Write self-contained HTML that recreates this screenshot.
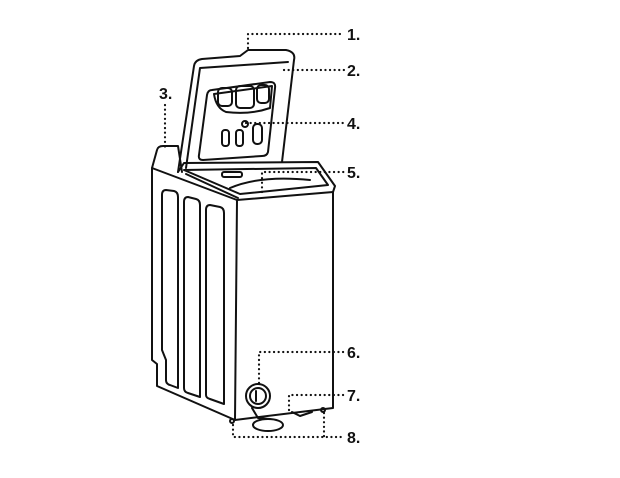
<!DOCTYPE html>
<html><head><meta charset="utf-8"><style>
html,body{margin:0;padding:0;background:#fff;}
svg{display:block;}
text{font-family:"Liberation Sans",sans-serif;font-weight:bold;font-size:16px;fill:#111;}
</style></head><body>
<svg width="620" height="478" viewBox="0 0 620 478" xmlns="http://www.w3.org/2000/svg">
<g fill="none" stroke="#111" stroke-width="2" stroke-linejoin="round" stroke-linecap="round">
<!-- left console -->
<path d="M152,168 L157,150 Q158,146 163,146 L178,146 L182,172"/>
<!-- front face -->
<path d="M152,168 L237,200 L235,420 L157,386 L157,364 L152,360 Z"/>
<!-- right face -->
<path d="M237,200 L333,192 L333,408 L235,420"/>
<!-- tub top -->
<path d="M178,172 L184,163 L318,162 L335,186 L333,192"/>
<path d="M184,170 L316,168 L328,185 L240,194 Z"/>
<path d="M186,174 L238,198"/>
<path d="M230,188 Q260,175 310,180"/>
<rect x="222" y="172" width="20" height="5" rx="2"/>
<!-- lid -->
<path d="M178,172 L194,66 Q195,60 202,59 L240,56 L248,50 L286,50 Q296,52 294,60 L282,162"/>
<path d="M186,168 L200,68 L288,62"/>
<!-- lid panel -->
<path d="M212,90 L270,82 Q276,82 275,88 L268,152 Q267,156 262,156 L203,160 Q198,160 199,155 L207,95 Q208,90 212,90 Z"/>
<path d="M214,94 L272,86 L270,108 Q250,115 226,112 Q216,108 214,94 Z"/>
<rect x="218" y="88" width="14" height="18" rx="4"/>
<rect x="236" y="86" width="18" height="22" rx="4"/>
<rect x="257" y="85" width="12" height="18" rx="4"/>
<circle cx="245" cy="124" r="3"/>
<rect x="222" y="130" width="7" height="16" rx="3"/>
<rect x="236" y="130" width="7" height="16" rx="3"/>
<rect x="253" y="124" width="9" height="20" rx="4"/>
<!-- front slots -->
<path d="M166,190 Q162,190 162,195 L162,350 L166,360 L166,380 Q166,384 170,385 L178,388 L178,197 Q178,192 174,191 Z"/>
<path d="M188,197 Q184,197 184,202 L184,388 Q184,392 188,393 L200,397 L200,205 Q200,200 196,199 Z"/>
<path d="M210,205 Q206,205 206,210 L206,395 Q206,398 210,399 L224,404 L224,213 Q224,208 220,207 Z"/>
<!-- drain -->
<circle cx="258" cy="396" r="12"/>
<circle cx="258" cy="396" r="8"/>
<path d="M256,391 L256,401"/>
<path d="M252,408 L258,418 L270,419"/>
<ellipse cx="268" cy="425" rx="15" ry="6"/>
<path d="M292,412 L300,416 L312,412"/>
<circle cx="232" cy="421" r="2"/>
<circle cx="323" cy="410" r="2"/>
</g>
<g fill="none" stroke="#111" stroke-width="2.2" stroke-dasharray="0.1 4.5" stroke-linecap="round">
<path d="M248,48 L248,34 L344,34"/>
<path d="M284,70 L344,70"/>
<path d="M165,105 L165,150"/>
<path d="M246,123 L344,123"/>
<path d="M262,192 L262,172 L344,172"/>
<path d="M259,383 L259,352 L344,352"/>
<path d="M289,410 L289,395 L344,395"/>
<path d="M233,425 L233,437 L344,437"/>
<path d="M324,413 L324,437"/>
</g>
<text x="347" y="40">1.</text>
<text x="347" y="76">2.</text>
<text x="159" y="99">3.</text>
<text x="347" y="129">4.</text>
<text x="347" y="178">5.</text>
<text x="347" y="358">6.</text>
<text x="347" y="401">7.</text>
<text x="347" y="443">8.</text>
</svg>
</body></html>
